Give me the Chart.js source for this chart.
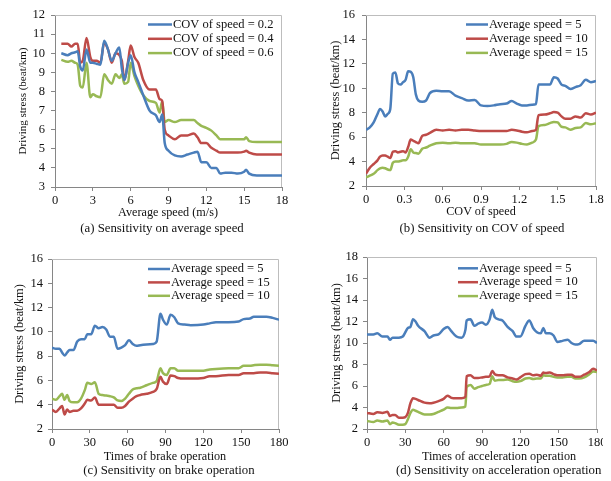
<!DOCTYPE html>
<html>
<head>
<meta charset="utf-8">
<script src="https://cdn.jsdelivr.net/npm/chart.js@4.4.0/dist/chart.umd.min.js"></script>
<style>
  body { margin: 0; background: #fff; }
  #page { position: relative; width: 611px; height: 481px; overflow: hidden; background: #fff;
          font-family: "Liberation Serif", "Times New Roman", serif; color: #111; }
  .panel { position: absolute; overflow: hidden; }
  .lbl { position: absolute; white-space: pre; line-height: 14px; }
  .mid { transform: translateX(-50%); }
</style>
</head>
<body>
<div id="page">
  <div class="panel" style="left:0;top:0;width:305px;height:240px"><canvas id="chartA" width="305" height="240"></canvas></div>
  <div class="panel" style="left:305px;top:0;width:306px;height:240px"><canvas id="chartB" width="306" height="240"></canvas></div>
  <div class="panel" style="left:0;top:240px;width:305px;height:241px"><canvas id="chartC" width="305" height="241"></canvas></div>
  <div class="panel" style="left:305px;top:240px;width:298px;height:241px"><canvas id="chartD" width="298" height="241"></canvas></div>

  <div class="lbl mid" style="left:168px;top:205px;font-size:12.2px">Average speed (m/s)</div>
  <div class="lbl mid" style="left:162px;top:221px;font-size:12.8px">(a) Sensitivity on average speed</div>
  <div class="lbl mid" style="left:481px;top:204px;font-size:12.2px">COV of speed</div>
  <div class="lbl mid" style="left:482px;top:221px;font-size:12.8px">(b) Sensitivity on COV of speed</div>
  <div class="lbl mid" style="left:165px;top:449px;font-size:12.2px">Times of brake operation</div>
  <div class="lbl mid" style="left:169px;top:463px;font-size:12.8px">(c) Sensitivity on brake operation</div>
  <div class="panel" style="left:305px;top:440px;width:298px;height:41px">
    <div class="lbl mid" style="left:194px;top:9px;font-size:12.2px">Times of acceleration operation</div>
    <div class="lbl" style="left:91px;top:23px;font-size:12.8px">(d) Sensitivity on acceleration operation</div>
  </div>
</div>
<script>
// (a) sensitivity on average speed
const speedX = [0.5, 1.0, 1.3, 1.6, 1.8, 2.0, 2.2, 2.5, 2.8, 3.0, 3.3, 3.6, 3.9, 4.2, 4.5, 4.8, 5.1, 5.3, 5.5, 5.8,
  6.0, 6.3, 6.6, 7.0, 7.5, 8.0, 8.3, 8.5, 8.7, 9.0, 9.5, 10.0, 10.5, 11.0, 11.3, 11.6, 12.0, 12.4, 12.8, 13.1,
  13.5, 14.0, 14.5, 15.0, 15.15, 15.4, 16.0, 17.0, 18.0];
const cov02 = [10.0, 9.9, 10.0, 10.05, 10.1, 9.3, 9.1, 10.2, 9.5, 9.5, 9.45, 9.4, 10.65, 10.2, 9.6, 10.0, 10.3, 9.2, 8.6, 9.5,
  9.9, 9.0, 8.5, 7.8, 7.0, 6.75, 6.4, 6.8, 5.3, 4.9, 4.65, 4.6, 4.7, 4.8, 4.85, 4.3, 4.3, 4.0, 4.0, 3.7,
  3.75, 3.75, 3.7, 3.8, 3.9, 3.7, 3.6, 3.6, 3.6];
const cov04 = [10.5, 10.5, 10.35, 10.5, 10.5, 9.5, 9.6, 10.8, 9.8, 9.6, 9.6, 9.5, 10.55, 10.2, 9.5, 10.0, 9.9, 9.6, 8.6, 9.6,
  10.4, 9.8, 9.5, 8.6, 8.1, 8.1, 7.6, 7.5, 6.0, 5.7, 5.5, 5.7, 5.7, 5.8, 5.6, 5.3, 5.3, 5.05, 4.9, 4.8,
  4.8, 4.8, 4.8, 4.85, 4.9, 4.8, 4.7, 4.7, 4.7];
const cov06 = [9.65, 9.55, 9.6, 9.5, 9.4, 8.3, 8.2, 9.5, 7.7, 7.85, 7.75, 7.7, 8.9, 8.6, 8.4, 8.9, 8.7, 8.9, 8.4, 8.5,
  9.5, 8.8, 8.3, 7.8, 7.5, 7.4, 6.9, 7.5, 6.4, 6.5, 6.4, 6.5, 6.5, 6.5, 6.35, 6.2, 6.1, 5.95, 5.7, 5.5,
  5.5, 5.5, 5.5, 5.5, 5.6, 5.4, 5.35, 5.35, 5.35];

// (b) sensitivity on COV of speed
const covX = [0, 0.03, 0.06, 0.09, 0.11, 0.13, 0.15, 0.17, 0.19, 0.21, 0.23, 0.25, 0.27, 0.29, 0.31, 0.33, 0.35, 0.37,
  0.39, 0.41, 0.44, 0.47, 0.5, 0.55, 0.6, 0.65, 0.7, 0.75, 0.8, 0.85, 0.9, 0.95, 1.0, 1.05, 1.1, 1.14, 1.18,
  1.22, 1.26, 1.3, 1.33, 1.35, 1.4, 1.44, 1.47, 1.5, 1.53, 1.56, 1.6, 1.64, 1.68, 1.72, 1.76, 1.8];
const covSpeed5 = [6.6, 6.8, 7.2, 7.9, 8.3, 8.1, 7.7, 7.9, 8.3, 11.2, 11.3, 10.4, 10.3, 10.5, 10.7, 11.4, 11.35, 10.9,
  9.5, 9.0, 8.9, 9.0, 9.6, 9.8, 9.75, 9.75, 9.4, 9.2, 9.0, 9.05, 8.6, 8.55, 8.6, 8.7, 8.75, 8.95, 8.75,
  8.6, 8.6, 8.65, 8.7, 10.3, 10.3, 10.3, 10.9, 10.8, 10.3, 10.2, 9.95, 10.1, 10.25, 10.7, 10.5, 10.6];
const covSpeed10 = [3.0, 3.5, 3.8, 4.1, 4.4, 4.5, 4.5, 4.4, 4.3, 4.8, 4.85, 4.75, 4.8, 4.85, 4.75, 5.2, 5.8, 5.7,
  5.6, 5.5, 6.1, 6.2, 6.35, 6.6, 6.55, 6.6, 6.55, 6.6, 6.6, 6.55, 6.5, 6.5, 6.5, 6.5, 6.5, 6.6, 6.55,
  6.45, 6.4, 6.5, 6.6, 7.8, 7.85, 7.95, 8.05, 8.0, 7.7, 7.5, 7.5, 7.7, 7.6, 7.95, 7.85, 8.0];
const covSpeed15 = [2.7, 2.85, 3.0, 3.3, 3.45, 3.5, 3.45, 3.35, 3.3, 3.9, 4.0, 4.0, 4.05, 4.1, 4.1, 4.4, 5.0, 4.75,
  4.7, 4.65, 5.05, 5.15, 5.3, 5.5, 5.55, 5.5, 5.55, 5.5, 5.5, 5.5, 5.4, 5.4, 5.4, 5.4, 5.45, 5.6, 5.55,
  5.45, 5.4, 5.55, 5.8, 6.9, 7.0, 7.15, 7.25, 7.2, 6.85, 6.8, 6.6, 6.75, 6.8, 7.15, 7.05, 7.15];

// (c) sensitivity on brake operation
const brakeX = [0, 3, 6, 8, 10, 12, 14, 17, 20, 23, 26, 28, 31, 34, 37, 40, 43, 46, 49, 52, 55, 58, 61, 64, 67, 70,
  75, 80, 83, 86, 88, 91, 94, 97, 100, 105, 110, 120, 125, 130, 140, 148, 152, 157, 160, 165, 170, 175, 180];
const brakeSpeed5 = [8.7, 8.6, 8.6, 8.3, 8.05, 8.3, 8.5, 8.5, 9.2, 9.4, 9.4, 9.8, 9.8, 10.5, 10.3, 10.4, 10.2, 9.6, 9.6,
  8.6, 8.7, 8.9, 9.3, 9.0, 8.85, 8.9, 8.95, 9.0, 9.2, 11.5, 11.0, 10.6, 11.4, 11.2, 10.7, 10.6, 10.55, 10.6,
  10.7, 10.8, 10.8, 10.85, 11.05, 11.1, 11.25, 11.25, 11.25, 11.15, 11.0];
const brakeSpeed15 = [3.6, 3.4, 3.7, 3.9, 3.2, 3.6, 3.4, 3.5, 3.5, 3.7, 4.1, 4.4, 4.35, 4.6, 4.0, 4.0, 4.0, 4.0, 4.0,
  3.75, 3.75, 3.9, 4.25, 4.5, 4.7, 4.8, 4.9, 5.05, 5.3, 6.3, 5.9, 5.7, 6.4, 6.35, 6.2, 6.15, 6.15, 6.2,
  6.35, 6.35, 6.45, 6.45, 6.6, 6.6, 6.6, 6.65, 6.65, 6.6, 6.55];
const brakeSpeed10 = [4.5, 4.4, 4.7, 4.9, 4.4, 4.8, 4.3, 4.2, 4.2, 4.5, 5.2, 5.8, 5.7, 5.85, 4.9, 4.8, 4.75, 4.7, 4.6,
  4.35, 4.3, 4.5, 4.9, 5.25, 5.35, 5.4, 5.6, 5.8, 5.95, 7.0, 6.6, 6.45, 7.0, 7.0, 6.8, 6.8, 6.8, 6.8,
  6.9, 6.95, 7.0, 7.0, 7.2, 7.2, 7.25, 7.3, 7.3, 7.25, 7.2];

// (d) sensitivity on acceleration operation
const accelX = [0, 5, 8, 12, 16, 18, 20, 22, 25, 28, 30, 32, 34, 36, 38, 40, 45, 49, 52, 56, 60, 63, 66, 70, 74, 77,
  78, 81, 84, 87, 90, 93, 96, 98, 100, 103, 106, 110, 114, 117, 120, 124, 127, 130, 133, 136, 138, 140, 143,
  146, 149, 153, 157, 160, 163, 166, 170, 174, 177, 180];
const accelSpeed5 = [10.8, 10.8, 10.9, 10.6, 10.6, 10.3, 10.5, 10.5, 10.5, 10.6, 11.0, 11.4, 11.5, 12.2, 12.0, 11.6,
  11.1, 10.5, 10.7, 10.8, 11.3, 11.5, 11.1, 10.6, 10.5, 11.2, 12.1, 12.2, 11.6, 11.8, 11.9, 11.7, 12.2, 13.1,
  12.4, 12.2, 12.1, 11.5, 11.1, 10.6, 10.6, 11.6, 12.1, 11.4, 11.0, 10.9, 11.4, 10.9, 10.9, 10.7, 10.1, 10.2,
  10.3, 10.0, 9.85, 9.9, 10.2, 10.2, 10.2, 10.0];
const accelSpeed10 = [3.5, 3.4, 3.55, 3.5, 3.6, 3.2, 3.3, 3.3, 3.05, 3.05, 3.1, 3.5, 4.4, 4.85, 4.8, 4.7, 4.45, 4.4,
  4.45, 4.6, 4.8, 5.1, 4.9, 4.85, 4.85, 5.0, 6.9, 7.0, 6.75, 6.75, 6.8, 6.85, 6.9, 7.4, 7.1, 7.0, 7.0, 6.8,
  6.7, 6.6, 6.8, 7.1, 7.15, 7.0, 7.05, 6.95, 7.25, 7.2, 7.25, 7.1, 7.0, 7.0, 7.05, 7.05, 6.85, 6.85, 7.05,
  7.3, 7.6, 7.45];
const accelSpeed15 = [2.75, 2.65, 2.8, 2.7, 2.8, 2.45, 2.6, 2.55, 2.4, 2.4, 2.45, 2.9, 3.5, 3.8, 3.7, 3.6, 3.35, 3.35,
  3.4, 3.6, 3.8, 4.0, 3.95, 3.95, 4.0, 4.1, 5.9, 6.1, 5.75, 5.9, 6.0, 6.1, 6.2, 6.9, 6.5, 6.55, 6.55, 6.6,
  6.45, 6.4, 6.45, 6.7, 6.75, 6.65, 6.7, 6.7, 7.0, 6.95, 6.95, 6.85, 6.8, 6.8, 6.85, 6.85, 6.7, 6.7, 6.8,
  7.1, 7.35, 7.3];

const BLUE = '#4a7ebb', RED = '#be4b48', GREEN = '#98b954';
const AXIS = '#868686', TEXT = '#111';
const FONT = '"Liberation Serif", "Times New Roman", serif';

Chart.defaults.font.family = FONT;
Chart.defaults.color = TEXT;

// light grey frame on top and right of the plot
const frameBox = {
  id: 'frameBox',
  beforeDatasetsDraw(chart) {
    const a = chart.chartArea, ctx = chart.ctx;
    ctx.save();
    ctx.strokeStyle = '#bdbdbd';
    ctx.lineWidth = 1;
    ctx.beginPath();
    ctx.moveTo(a.left, a.top + 0.5);
    ctx.lineTo(a.right - 0.5, a.top + 0.5);
    ctx.lineTo(a.right - 0.5, a.bottom);
    ctx.stroke();
    ctx.restore();
  }
};

// legend drawn inside the plot, top right
const innerLegend = {
  id: 'innerLegend',
  afterDatasetsDraw(chart, args, opts) {
    const a = chart.chartArea, ctx = chart.ctx;
    ctx.save();
    ctx.font = '12.5px ' + FONT;
    ctx.textBaseline = 'middle';
    chart.data.datasets.forEach((ds, i) => {
      const x = a.left + opts.x;
      const y = a.top + opts.y + i * opts.gap;
      ctx.strokeStyle = ds.borderColor;
      ctx.lineWidth = 2.5;
      ctx.beginPath();
      ctx.moveTo(x, y);
      ctx.lineTo(x + opts.len, y);
      ctx.stroke();
      ctx.fillStyle = TEXT;
      ctx.fillText(ds.label, x + opts.len + 1, y);
    });
    ctx.restore();
  }
};

function makeChart(id, cfg) {
  return new Chart(document.getElementById(id), {
    type: 'line',
    data: {
      datasets: cfg.series.map(s => ({
        label: s.label,
        data: cfg.x.map((x, i) => ({ x: x, y: s.y[i] })),
        borderColor: s.color,
        borderWidth: 2.5,
        pointRadius: 0,
        cubicInterpolationMode: 'monotone',
        fill: false
      }))
    },
    options: {
      responsive: false,
      animation: false,
      layout: { padding: cfg.pad },
      plugins: {
        legend: { display: false },
        tooltip: { enabled: false },
        innerLegend: cfg.legend
      },
      scales: {
        x: {
          type: 'linear',
          min: cfg.xMin, max: cfg.xMax,
          ticks: { stepSize: cfg.xStep, autoSkip: false, padding: 2, maxRotation: 0, font: { size: 12.5 } },
          grid: { drawOnChartArea: false, tickLength: 4, color: AXIS },
          border: { color: AXIS },
          afterFit(scale) {
            scale.height = cfg.xHeight;
            scale.paddingLeft = 0;
            scale.paddingRight = 0;
          }
        },
        y: {
          min: cfg.yMin, max: cfg.yMax,
          ticks: { stepSize: cfg.yStep, autoSkip: false, padding: cfg.yPad, font: { size: 12.5 } },
          grid: { drawOnChartArea: false, tickLength: 4, color: AXIS },
          border: { color: AXIS },
          title: {
            display: true,
            text: 'Driving stress (beat/km)',
            font: { size: cfg.yTitleSize },
            padding: { top: cfg.yTitlePad, bottom: 0 }
          },
          afterFit(scale) {
            scale.width = cfg.yWidth;
            scale.paddingTop = 0;
            scale.paddingBottom = 0;
          }
        }
      }
    },
    plugins: [frameBox, innerLegend]
  });
}

makeChart('chartA', {
  x: speedX,
  series: [
    { label: 'COV of speed = 0.2', y: cov02, color: BLUE },
    { label: 'COV of speed = 0.4', y: cov04, color: RED },
    { label: 'COV of speed = 0.6', y: cov06, color: GREEN }
  ],
  xMin: 0, xMax: 18, xStep: 3, yMin: 3, yMax: 12, yStep: 1,
  pad: { left: 0, top: 15, right: 23, bottom: 0 },
  xHeight: 53, yWidth: 55, yPad: 6, yTitleSize: 11, yTitlePad: 16.4,
  legend: { x: 93, y: 9.5, gap: 14.3, len: 24 }
});

makeChart('chartB', {
  x: covX,
  series: [
    { label: 'Average speed = 5', y: covSpeed5, color: BLUE },
    { label: 'Average speed = 10', y: covSpeed10, color: RED },
    { label: 'Average speed = 15', y: covSpeed15, color: GREEN }
  ],
  xMin: 0, xMax: 1.8, xStep: 0.3, yMin: 2, yMax: 16, yStep: 2,
  pad: { left: 0, top: 15, right: 15, bottom: 0 },
  xHeight: 54, yWidth: 61, yPad: 7, yTitleSize: 12.3, yTitlePad: 23.6,
  legend: { x: 100, y: 9.5, gap: 14.2, len: 22 }
});

makeChart('chartC', {
  x: brakeX,
  series: [
    { label: 'Average speed = 5', y: brakeSpeed5, color: BLUE },
    { label: 'Average speed = 15', y: brakeSpeed15, color: RED },
    { label: 'Average speed = 10', y: brakeSpeed10, color: GREEN }
  ],
  xMin: 0, xMax: 180, xStep: 30, yMin: 2, yMax: 16, yStep: 2,
  pad: { left: 0, top: 19, right: 26, bottom: 0 },
  xHeight: 52, yWidth: 52, yPad: 5, yTitleSize: 12.3, yTitlePad: 12.6,
  legend: { x: 96, y: 10, gap: 13.4, len: 22 }
});

makeChart('chartD', {
  x: accelX,
  series: [
    { label: 'Average speed = 5', y: accelSpeed5, color: BLUE },
    { label: 'Average speed = 10', y: accelSpeed10, color: RED },
    { label: 'Average speed = 15', y: accelSpeed15, color: GREEN }
  ],
  xMin: 0, xMax: 180, xStep: 30, yMin: 2, yMax: 18, yStep: 2,
  pad: { left: 0, top: 17, right: 6, bottom: 0 },
  xHeight: 52, yWidth: 62, yPad: 5, yTitleSize: 12.3, yTitlePad: 24.6,
  legend: { x: 91, y: 11.3, gap: 13.9, len: 20 }
});
</script>
</body>
</html>
